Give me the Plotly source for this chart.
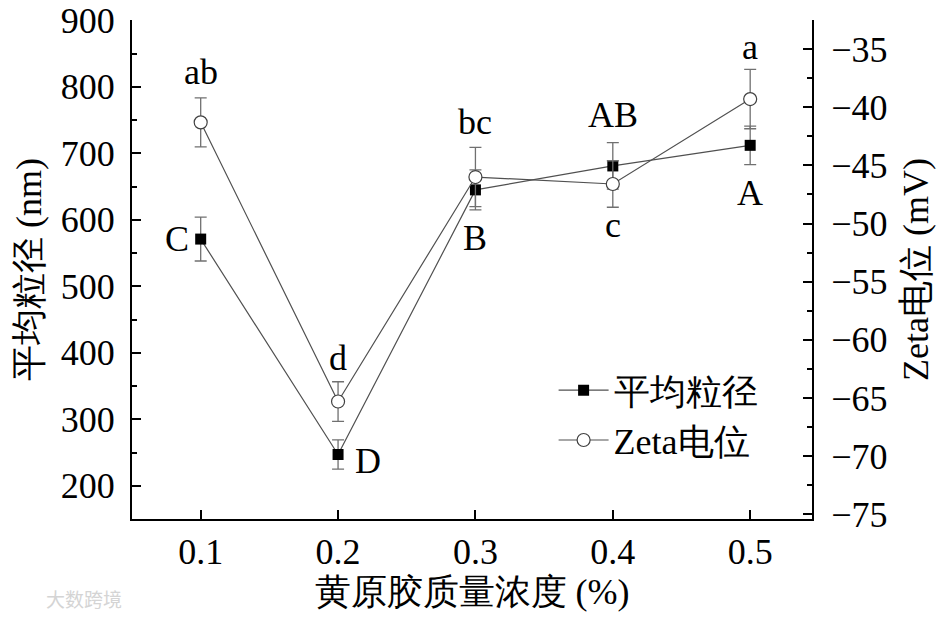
import plotly.graph_objects as go

# ---- data ----
concentration = [0.1, 0.2, 0.3, 0.4, 0.5]
mean_size = [571, 247, 645, 681, 712]
mean_size_err = [33, 22, 30, 35, 29]
zeta = [-41.3, -65.3, -46.0, -46.6, -39.3]
zeta_err = [2.1, 1.7, 2.55, 2.0, 2.55]
size_letters = ["C", "D", "B", "AB", "A"]
zeta_letters = ["ab", "d", "bc", "c", "a"]
x_ticks = [0.1, 0.2, 0.3, 0.4, 0.5]
y_left_ticks = [200, 300, 400, 500, 600, 700, 800, 900]
y_right_ticks = [-75, -70, -65, -60, -55, -50, -45, -40, -35]

# ---- style ----
FONT = "Liberation Serif"
FS = 36
size_label_shift = [(-24, 0), (30, -6), (0, -48), (0, 51), (0, -48)]
zeta_label_shift = [(0, 50), (0, 44), (0, 55), (0, -41), (0, 52)]

fig = go.Figure()
fig.add_trace(go.Scatter(
    x=concentration, y=mean_size, name="平均粒径", mode="lines+markers",
    line=dict(color="#505050", width=1.2),
    marker=dict(symbol="square", size=11, color="black"),
    error_y=dict(type="data", array=mean_size_err, color="#707070", thickness=1.3, width=6),
    yaxis="y",
))
fig.add_trace(go.Scatter(
    x=concentration, y=zeta, name="Zeta电位", mode="lines+markers",
    line=dict(color="#505050", width=1.2),
    marker=dict(symbol="circle", size=13, color="white", line=dict(color="#404040", width=1.2)),
    error_y=dict(type="data", array=zeta_err, color="#707070", thickness=1.3, width=6),
    yaxis="y2",
))

annotations = []
for xv, yv, t, (dx, dy) in zip(concentration, mean_size, size_letters, size_label_shift):
    annotations.append(dict(x=xv, y=yv, xref="x", yref="y", text=t, showarrow=False,
                            xshift=dx, yshift=dy, font=dict(family=FONT, size=FS, color="black")))
for xv, yv, t, (dx, dy) in zip(concentration, zeta, zeta_letters, zeta_label_shift):
    annotations.append(dict(x=xv, y=yv, xref="x", yref="y2", text=t, showarrow=False,
                            xshift=dx, yshift=dy, font=dict(family=FONT, size=FS, color="black")))
annotations.append(dict(x=-0.13, y=-0.16, xref="paper", yref="paper", xanchor="left", yanchor="middle",
                        text="大数跨境", showarrow=False,
                        font=dict(family="Noto Sans CJK SC", size=19, color="#d4d4d4")))

axis_common = dict(
    showline=True, linecolor="black", linewidth=2, ticks="inside", tickcolor="black",
    tickwidth=2, ticklen=9, showgrid=False, zeroline=False, automargin=False,
    ticklabeloverflow="allow",
    tickfont=dict(family=FONT, size=FS, color="black"),
)

# page body adds an 8px offset; margins compensate for it
fig.update_layout(
    width=949, height=617,
    margin=dict(l=124, r=145, t=12, b=106),
    paper_bgcolor="white", plot_bgcolor="white",
    font=dict(family=FONT, color="black"),
    showlegend=True,
    legend=dict(x=0.62, y=0.318, xanchor="left", yanchor="top", bgcolor="rgba(0,0,0,0)",
                itemwidth=50,
                font=dict(family=FONT, size=FS, color="black"), tracegroupgap=0),
    xaxis=dict(range=[0.05, 0.545], tickvals=x_ticks, ticktext=[str(v) for v in x_ticks],
               title=dict(text="黄原胶质量浓度 (%)", font=dict(family=FONT, size=FS), standoff=4),
               ticklabelstandoff=0, **axis_common),
    yaxis=dict(range=[150, 900.5], tickvals=y_left_ticks,
               title=dict(text="平均粒径 (nm)", font=dict(family=FONT, size=FS), standoff=8),
               minor=dict(dtick=50, tick0=0, ticks="inside", ticklen=5, tickwidth=2, tickcolor="black"),
               ticklabelstandoff=8, **axis_common),
    yaxis2=dict(range=[-75.4, -32.5], tickvals=y_right_ticks, overlaying="y", side="right",
                title=dict(text="Zeta电位 (mV)", font=dict(family=FONT, size=FS), standoff=16),
                minor=dict(dtick=2.5, tick0=0, ticks="inside", ticklen=5, tickwidth=2, tickcolor="black"),
                ticklabelstandoff=10, **axis_common),
    annotations=annotations,
)

fig.write_html("out.html")
